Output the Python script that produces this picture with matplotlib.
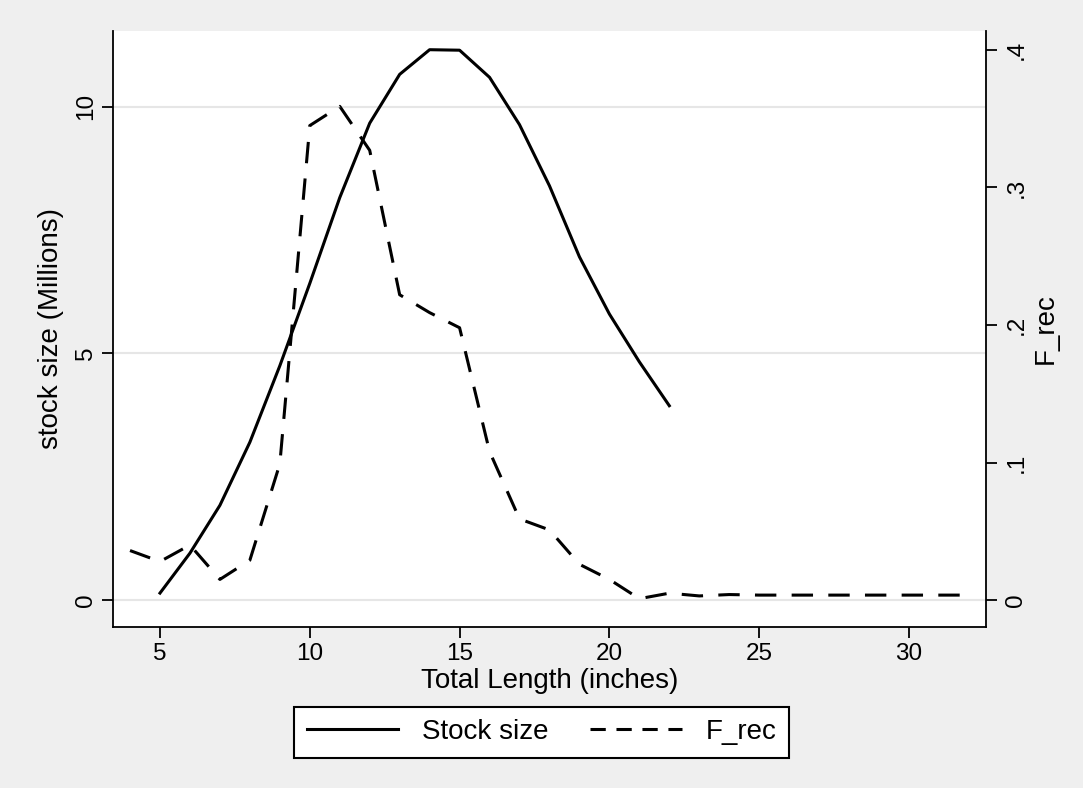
import matplotlib.pyplot as plt
from matplotlib.lines import Line2D

plt.rcParams['font.family'] = ['Liberation Sans', 'DejaVu Sans']

# total length (inches)
length_stock = [5, 6, 7, 8, 9, 10, 11, 12, 13, 14, 15, 16, 17, 18, 19, 20, 21, 22]
stock_size = [0.14, 0.95, 1.92, 3.2, 4.75, 6.42, 8.16, 9.67, 10.66, 11.16,
              11.15, 10.6, 9.64, 8.4, 6.96, 5.8, 4.83, 3.94]

length_frec = list(range(4, 33))
f_rec = [0.036, 0.028, 0.040, 0.015, 0.029, 0.099, 0.345, 0.359, 0.327, 0.222,
         0.209, 0.198, 0.108, 0.059, 0.051, 0.026, 0.015, 0.001, 0.005, 0.003,
         0.004, 0.0036, 0.0036, 0.0036, 0.0036, 0.0036, 0.0036, 0.0036, 0.0036]

tick_fs = 17.5
label_fs = 20
bg = '#efefef'
dash = (0, (7, 5))

fig = plt.figure(figsize=(10.83, 7.88), dpi=100, facecolor=bg)
ax = fig.add_axes([0.1043, 0.2043, 0.8061, 0.7564])
ax2 = ax.twinx()

ax.plot(length_stock, stock_size, color='black', lw=2.2, solid_joinstyle='round')
ax2.plot(length_frec, f_rec, color='black', lw=2.2, linestyle=dash)

ax.set_xlim(3.43, 32.57)
ax.set_ylim(-0.548, 11.54)
ax2.set_ylim(-0.0196, 0.4138)

ax.set_yticks([0, 5, 10])
ax.set_yticklabels(['0', '5', '10'], rotation=90, va='center')
ax2.set_yticks([0, 0.1, 0.2, 0.3, 0.4])
ax2.set_yticklabels(['0', '.1', '.2', '.3', '.4'], rotation=90, va='center')
ax.set_xticks([5, 10, 15, 20, 25, 30])

ax.grid(axis='y', color='#e6e6e6', lw=1.5)
ax.set_axisbelow(True)

for a in (ax, ax2):
    a.spines['top'].set_visible(False)
    for s in a.spines.values():
        s.set_linewidth(1.3)
    a.tick_params(labelsize=tick_fs, length=8, width=1.3, direction='out')
ax2.tick_params(pad=6)
ax.spines['right'].set_visible(False)
ax2.spines['left'].set_visible(False)
ax2.spines['bottom'].set_visible(False)

ax.set_xlabel('Total Length (inches)', fontsize=label_fs, labelpad=2)
ax.set_ylabel('stock size (Millions)', fontsize=label_fs, labelpad=8)
ax2.set_ylabel('F_rec', fontsize=label_fs, labelpad=4)

handles = [Line2D([], [], color='black', lw=2.2),
           Line2D([], [], color='black', lw=2.2, linestyle=(0, (5, 3.5)))]
leg = fig.legend(handles, ['Stock size', 'F_rec'], loc='center',
                 bbox_to_anchor=(0.5, 0.071), ncol=2, fontsize=label_fs,
                 frameon=True, fancybox=False, edgecolor='black', framealpha=1,
                 handlelength=3.3, handletextpad=0.85, columnspacing=1.5,
                 borderpad=0.45)
leg.get_frame().set_linewidth(1.5)

fig.savefig('out.png', dpi=100, facecolor=bg)
